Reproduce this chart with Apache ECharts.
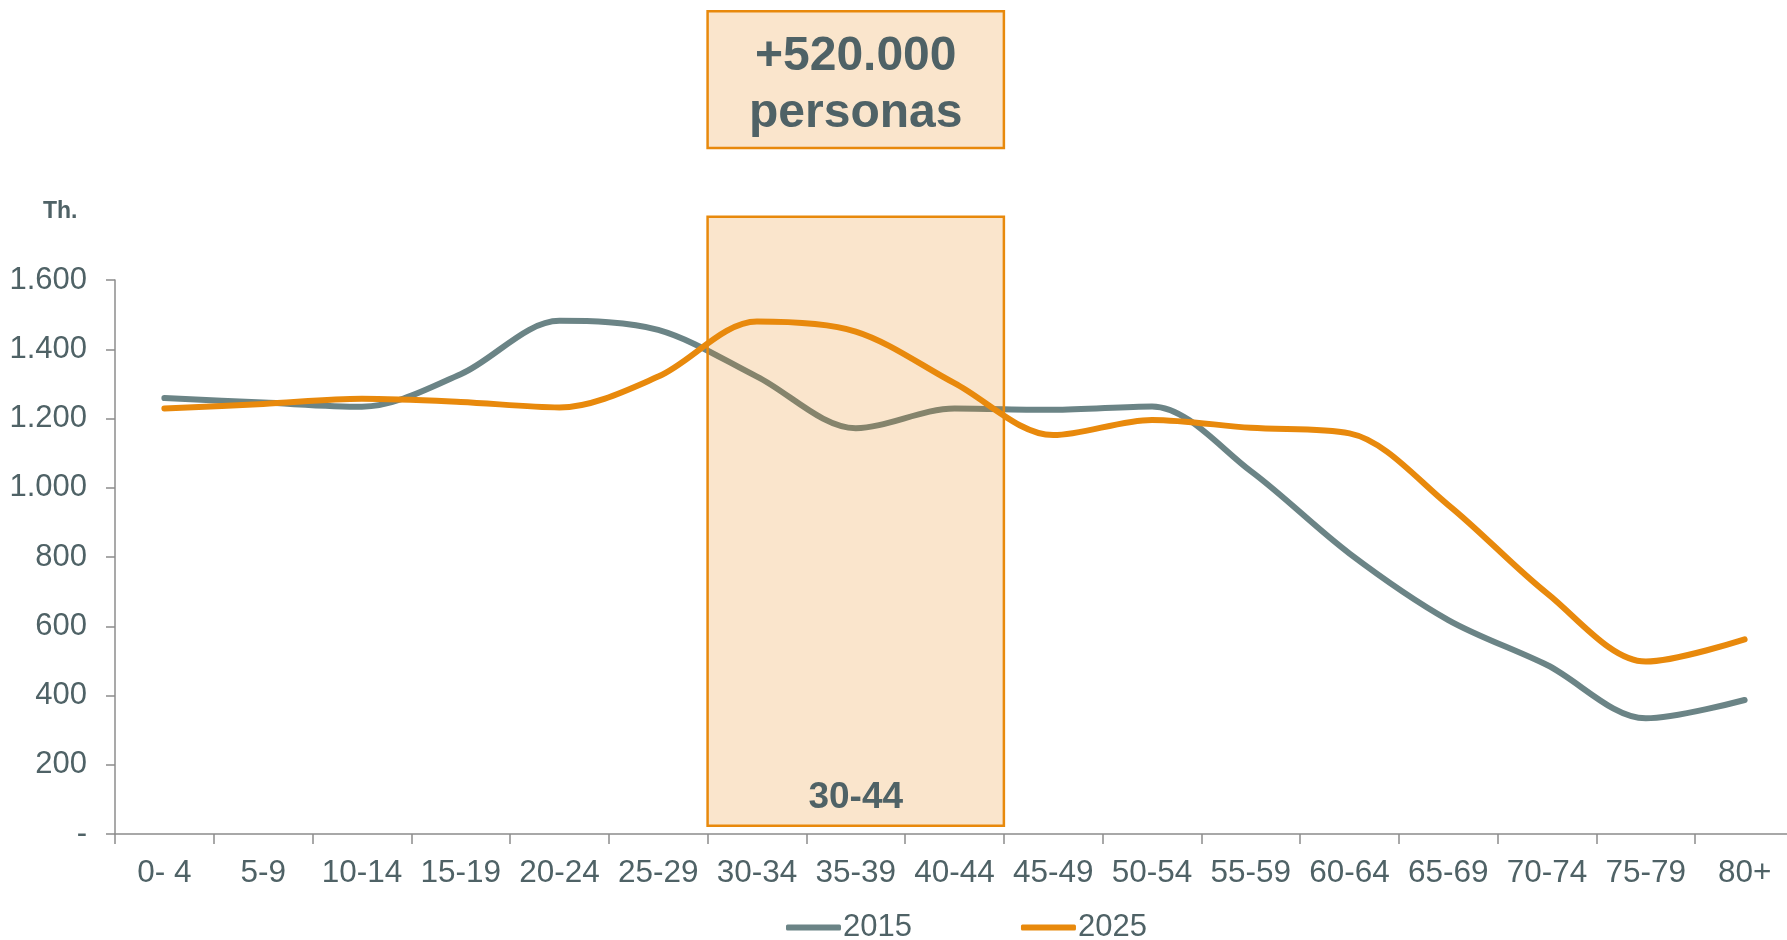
<!DOCTYPE html>
<html><head><meta charset="utf-8">
<script src="https://cdn.jsdelivr.net/npm/echarts@6/dist/echarts.min.js"></script>
<style>html,body{margin:0;padding:0;background:#fff;}#c{width:1787px;height:940px;}</style>
</head><body><div id="c"></div>
<script>
// ---- data ----
const categories = ['0- 4','5-9','10-14','15-19','20-24','25-29','30-34','35-39','40-44','45-49','50-54','55-59','60-64','65-69','70-74','75-79','80+'];
const values2015 = [1259,1246,1234,1328,1482,1456,1321,1172,1229,1225,1235,1048,810,618,488,334,387];
const values2025 = [1229,1242,1257,1248,1232,1321,1480,1451,1302,1152,1196,1173,1157,950,695,498,562];
const seriesNames = ['2015','2025'];
const yTickLabels = ['-','200','400','600','800','1.000','1.200','1.400','1.600'];
const unitLabel = 'Th.';
const highlightFrom = '30-34';
const highlightTo = '40-44';
const highlightLabel = '30-44';
const calloutText = '+520.000\npersonas';

// annotation extents in axis units
const shadeRange = [24, 1783];
const calloutRange = [1981, 2376];
const highlightLabelValue = 105;

const FONT = '"Liberation Sans", Arial, Helvetica, sans-serif';
const TEXT = '#4f6266';
const GREY = '#6b8486';
const ORANGE = '#e8890c';
const AXIS = '#8c8c8c';

const chart = echarts.init(document.getElementById('c'), null, {renderer: 'canvas'});
const option = {
  animation: false,
  backgroundColor: '#ffffff',
  textStyle: {fontFamily: FONT},
  title: {
    text: unitLabel, left: 38, top: 195,
    textStyle: {fontFamily: FONT, fontSize: 23, fontWeight: 'bold', color: TEXT}
  },
  grid: {left: 115, right: -7, top: 280, bottom: 106, containLabel: false, outerBoundsMode: 'none'},
  legend: {
    data: seriesNames, left: 786, top: 912, padding: 0, itemGap: 109,
    itemWidth: 55, itemHeight: 6, icon: 'roundRect',
    textStyle: {fontFamily: FONT, fontSize: 31, color: TEXT, padding: [0, 0, 0, -3]}
  },
  xAxis: {
    type: 'category', data: categories, boundaryGap: true,
    axisLine: {show: true, lineStyle: {color: AXIS, width: 1.5}},
    axisTick: {show: true, length: 10, alignWithLabel: false, lineStyle: {color: AXIS, width: 1.5}},
    axisLabel: {interval: 0, margin: 23, fontFamily: FONT, fontSize: 31.5, color: TEXT},
    splitLine: {show: false}
  },
  yAxis: {
    type: 'value', min: 0, max: 1600, interval: 200,
    axisLine: {show: true, lineStyle: {color: AXIS, width: 1.5}},
    axisTick: {show: true, length: 9, lineStyle: {color: AXIS, width: 1.5}},
    axisLabel: {margin: 28, fontFamily: FONT, fontSize: 31, color: TEXT,
      formatter: function (v) { return yTickLabels[Math.round(v / 200)]; }},
    splitLine: {show: false}
  },
  series: [
    {name: seriesNames[0], type: 'line', data: values2015, smooth: 0.32, z: 1,
     showSymbol: false, symbol: 'none', color: GREY,
     lineStyle: {color: GREY, width: 6, cap: 'round', join: 'round'}},
    {name: seriesNames[1], type: 'line', data: values2025, smooth: 0.32, z: 3,
     showSymbol: false, symbol: 'none', color: ORANGE,
     lineStyle: {color: ORANGE, width: 6, cap: 'round', join: 'round'}}
  ]
};
chart.setOption(option);

// build annotations through the chart's own scales
const i0 = categories.indexOf(highlightFrom);
const i1 = categories.indexOf(highlightTo);
const c0 = chart.convertToPixel({xAxisIndex: 0}, i0);
const c0b = chart.convertToPixel({xAxisIndex: 0}, i0 + 1);
const c1 = chart.convertToPixel({xAxisIndex: 0}, i1);
const band = c0b - c0;
const xL = c0 - band / 2, xR = c1 + band / 2;
const yPix = v => chart.convertToPixel({yAxisIndex: 0}, v);
const sTop = yPix(shadeRange[1]), sBot = yPix(shadeRange[0]);
const cTop = yPix(calloutRange[1]), cBot = yPix(calloutRange[0]);
const midX = (xL + xR) / 2;

chart.setOption({
  graphic: [
    {type: 'rect', z: 2, silent: true,
     shape: {x: xL, y: sTop, width: xR - xL, height: sBot - sTop},
     style: {fill: 'rgba(230,133,12,0.21)', stroke: ORANGE, lineWidth: 2.5}},
    {type: 'rect', z: 2, silent: true,
     shape: {x: xL, y: cTop, width: xR - xL, height: cBot - cTop},
     style: {fill: 'rgba(230,133,12,0.21)', stroke: ORANGE, lineWidth: 2.5}},
    {type: 'text', z: 10, silent: true,
     style: {text: calloutText, x: midX, y: (cTop + cBot) / 2 + 6, align: 'center', verticalAlign: 'middle',
       fontFamily: FONT, fontSize: 48, fontWeight: 'bold', fill: TEXT, lineHeight: 57}},
    {type: 'text', z: 10, silent: true,
     style: {text: highlightLabel, x: midX, y: yPix(highlightLabelValue), align: 'center', verticalAlign: 'middle',
       fontFamily: FONT, fontSize: 37, fontWeight: 'bold', fill: TEXT}}
  ]
});
</script>
</body></html>
